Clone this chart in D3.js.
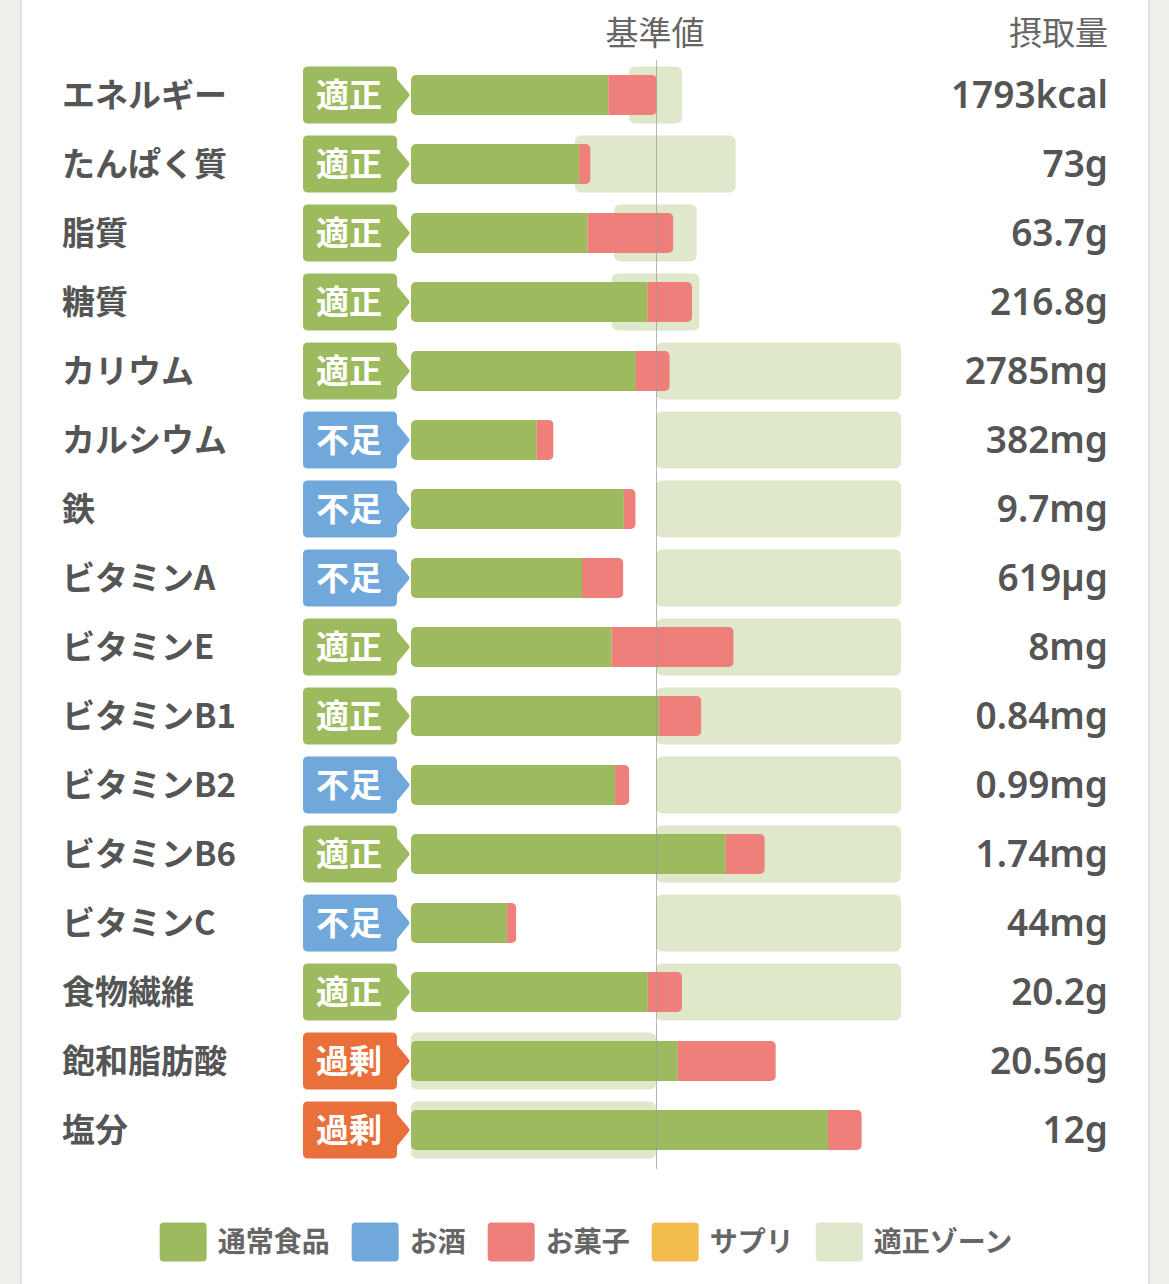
<!DOCTYPE html>
<html><head><meta charset="utf-8">
<script src="https://cdn.jsdelivr.net/npm/d3@7"></script>
<style>
html,body{margin:0;padding:0;background:#efeeea;}
svg{display:block;}
</style></head>
<body>
<svg id="chart" width="1169" height="1284"></svg>
<script>
// ---- data ----
const nutrients = ["エネルギー","たんぱく質","脂質","糖質","カリウム","カルシウム","鉄","ビタミンA","ビタミンE","ビタミンB1","ビタミンB2","ビタミンB6","ビタミンC","食物繊維","飽和脂肪酸","塩分"];
const status = ["適正","適正","適正","適正","適正","不足","不足","不足","適正","適正","不足","適正","不足","適正","過剰","過剰"];
const intakeLabels = ["1793kcal","73g","63.7g","216.8g","2785mg","382mg","9.7mg","619µg","8mg","0.84mg","0.99mg","1.74mg","44mg","20.2g","20.56g","12g"];
// percentages of the standard value (基準値 = 100)
const normalFood = [80.5,68.6,72.1,96.6,91.8,51.3,86.9,69.8,81.9,101.3,83.3,128.4,39.2,96.7,108.9,170.2];
const alcohol    = [0,0,0,0,0,0,0,0,0,0,0,0,0,0,0,0];
const sweets     = [19.8,4.7,35.0,18.1,13.8,6.9,4.8,16.9,49.8,17.2,5.8,16.0,3.8,13.9,40.0,13.8];
const supplement = [0,0,0,0,0,0,0,0,0,0,0,0,0,0,0,0];
const zoneLow  = [89.0,66.9,82.9,82.0,100,100,100,100,100,100,100,100,100,100,0,0];
const zoneHigh = [110.6,132.5,116.6,117.7,200,200,200,200,200,200,200,200,200,200,100,100];
const seriesKeys = ["通常食品","お酒","お菓子","サプリ"];
const legendLabels = ["通常食品","お酒","お菓子","サプリ","適正ゾーン"];

// ---- styles ----
const seriesColors = {"通常食品":"#9dbb5e","お酒":"#70a8dc","お菓子":"#ee7f7b","サプリ":"#f3bd4e"};
const zoneColor = "#dfe8cb";
const statusColors = {"適正":"#9dbb5e","不足":"#70a8dc","過剰":"#e9703a"};
const jp = "'Noto Sans CJK JP','Noto Sans',sans-serif";
const num = "'Noto Sans','Noto Sans CJK JP',sans-serif";

const svg = d3.select("#chart");
svg.append("rect").attr("x",0).attr("y",0).attr("width",1169).attr("height",1284).attr("fill","#efeeea");
// card shadow + card
svg.append("rect").attr("x",20).attr("y",-10).attr("width",1130).attr("height",1310).attr("fill","#e2e1dc");
svg.append("rect").attr("x",22).attr("y",-10).attr("width",1126).attr("height",1310).attr("fill","#ffffff");

const table = nutrients.map((n,i)=>({name:n, status:status[i], label:intakeLabels[i],
  "通常食品":normalFood[i],"お酒":alcohol[i],"お菓子":sweets[i],"サプリ":supplement[i],
  lo:zoneLow[i], hi:zoneHigh[i]}));

const x = d3.scaleLinear().domain([0,200]).range([411,901]);
const y = d3.scalePoint().domain(nutrients).range([95,1130]);
const barH = 40, zoneH = 57;

// zones
svg.append("g").selectAll("rect").data(table).join("rect")
  .attr("x",d=>x(d.lo)).attr("width",d=>x(d.hi)-x(d.lo))
  .attr("y",d=>y(d.name)-zoneH/2).attr("height",zoneH)
  .attr("rx",6).attr("fill",zoneColor);

// clip paths per row (rounded stacked bar)
const defs = svg.append("defs");
table.forEach((d,i)=>{
  const tot = seriesKeys.reduce((s,k)=>s+d[k],0);
  defs.append("clipPath").attr("id","clip"+i).append("rect")
    .attr("x",x(0)).attr("width",x(tot)-x(0))
    .attr("y",y(d.name)-barH/2).attr("height",barH).attr("rx",5);
});

const stack = d3.stack().keys(seriesKeys)(table);
const rows = svg.append("g");
table.forEach((d,i)=>{
  const g = rows.append("g").attr("clip-path","url(#clip"+i+")");
  stack.forEach(s=>{
    const seg = s[i];
    if (seg[1]-seg[0] <= 0) return;
    g.append("rect").attr("x",x(seg[0])).attr("width",x(seg[1])-x(seg[0]))
      .attr("y",y(d.name)-barH/2).attr("height",barH).attr("fill",seriesColors[s.key]);
  });
});

// standard line
svg.append("line").attr("x1",x(100)+0.5).attr("x2",x(100)+0.5).attr("y1",60).attr("y2",1169)
  .attr("stroke","#999").attr("stroke-opacity",0.7).attr("stroke-width",1);

// badges
const badge = svg.append("g").selectAll("g").data(table).join("g")
  .attr("transform",d=>`translate(0,${y(d.name)})`);
badge.append("path")
  .attr("d",()=>{
    const l=303,r=397,t=-28.5,b=28.5,rr=5;
    return `M${l+rr},${t} L${r-rr},${t} Q${r},${t} ${r},${t+rr} L${r},-16 L${409},-1.5 Q${410},0 ${409},1.5 L${r},16 L${r},${b-rr} Q${r},${b} ${r-rr},${b} L${l+rr},${b} Q${l},${b} ${l},${b-rr} L${l},${t+rr} Q${l},${t} ${l+rr},${t} Z`;
  })
  .attr("fill",d=>statusColors[d.status]);
badge.append("text").attr("x",349).attr("y",0).attr("dy","0.36em")
  .attr("text-anchor","middle").attr("fill","#fff")
  .style("font-family",jp).style("font-weight","bold").style("font-size","33px")
  .text(d=>d.status);

// nutrient labels
svg.append("g").selectAll("text").data(table).join("text")
  .attr("x",62).attr("y",d=>y(d.name)).attr("dy","0.36em")
  .attr("fill","#555").style("font-family",jp).style("font-weight","bold").style("font-size","33px")
  .text(d=>d.name);

// intake values
svg.append("g").selectAll("text").data(table).join("text")
  .attr("x",1108).attr("y",d=>y(d.name)).attr("dy","0.36em").attr("text-anchor","end")
  .attr("fill","#555").style("font-family",num).style("font-weight","600").style("font-size","37px")
  .text(d=>d.label);

// headers
svg.append("text").attr("x",x(100)-1).attr("y",33).attr("dy","0.36em").attr("text-anchor","middle")
  .attr("fill","#666").style("font-family",jp).style("font-size","33px").text("基準値");
svg.append("text").attr("x",1108).attr("y",33).attr("dy","0.36em").attr("text-anchor","end")
  .attr("fill","#666").style("font-family",jp).style("font-size","33px").text("摂取量");

// legend
const legendColors = [seriesColors["通常食品"],seriesColors["お酒"],seriesColors["お菓子"],seriesColors["サプリ"],zoneColor];
const lg = svg.append("g");
let cx = 0;
const gap = 22;
legendLabels.forEach((lab,i)=>{
  const it = lg.append("g");
  it.append("rect").attr("x",0).attr("y",-19.5).attr("width",47).attr("height",39).attr("rx",4).attr("fill",legendColors[i]);
  const t = it.append("text").attr("x",58).attr("y",0).attr("dy","0.36em")
    .attr("fill","#666").style("font-family",jp).style("font-weight","bold").style("font-size","28px").text(lab);
  const w = 58 + t.node().getComputedTextLength();
  it.attr("transform",`translate(${cx},1242)`);
  cx += w + gap;
});
const totalW = cx - gap;
lg.attr("transform",`translate(${586 - totalW/2},0)`);
</script>
</body></html>
